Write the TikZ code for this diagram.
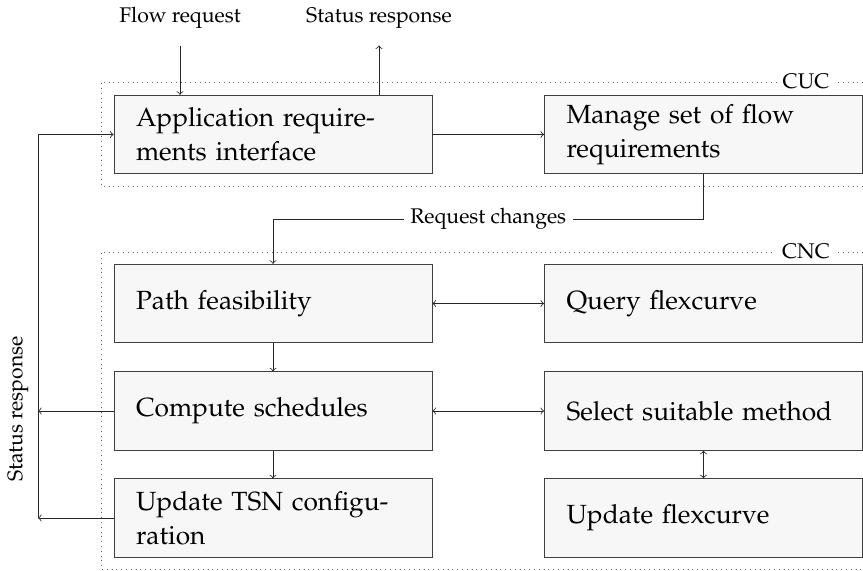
\documentclass[tikz,border=0pt]{standalone}
\usepackage[T1]{fontenc}
\usepackage{palatino}

\newcommand{\lblfont}{\fontsize{10.6}{13}\selectfont}
\newcommand{\boxfont}{\fontsize{13.15}{17}\selectfont}

\begin{document}
\begin{tikzpicture}[x=0.5pt,y=-0.5pt,
  procbox/.style={draw=black!75, fill=black!3, minimum width=159pt,
    minimum height=39.25pt, text width=137pt, inner xsep=11pt, inner ysep=2pt,
    align=left, font=\boxfont},
  lbl/.style={font=\lblfont},
  link/.style={draw=black!85, ->},
  group/.style={draw=black!60, dotted}]
\useasboundingbox (0,0) rectangle (863,570);

% dotted group frames (open to the right)
\draw[group] (863,82) -- (101,82) -- (101,186) -- (863,186);
\draw[group] (863,252) -- (101,252) -- (101,569) -- (863,569);
\node[lbl, fill=white, inner xsep=3pt] (cuc) at (806,81) {CUC};
\node[lbl, fill=white, inner xsep=3pt] (cnc) at (806,251) {CNC};

% process boxes
\node[procbox] (app)   at (273,134.5)   {Application require-\\ments interface};
\node[procbox] (mng)   at (703.5,134.5) {Manage set of flow\\requirements};
\node[procbox] (path)  at (273,303.5)   {Path feasibility};
\node[procbox] (query) at (703.5,303.5) {Query flexcurve};
\node[procbox] (comp)  at (273,411)     {Compute schedules};
\node[procbox] (sel)   at (703.5,411)   {Select suitable method};
\node[procbox] (tsn)   at (273,518)     {Update TSN configu-\\ration};
\node[procbox] (upd)   at (703.5,518)   {Update flexcurve};

% external request / response
\node[lbl] (freq)  at (180,18) {Flow request};
\node[lbl] (sresp) at (379,18) {Status response};
\draw[link, shorten <=5pt] (freq.south) -- (freq.south |- app.north);
\draw[link, shorten >=5pt] (sresp.south |- app.north) -- (sresp.south);

% CUC internals
\draw[link] (app.east) -- (mng.west);
\coordinate (rcy) at (0,219);
\draw[link] (mng.south) |- node[lbl, fill=white, pos=0.75] {Request changes}
  (path.north |- rcy) -- (path.north);

% CNC internals
\draw[link] (path.south) -- (comp.north);
\draw[link] (comp.south) -- (tsn.north);
\draw[link, <->] (path.east) -- (query.west);
\draw[link, <->] (comp.east) -- (sel.west);
\draw[link, <->] (sel.south) -- (upd.north);

% status feedback on the left
\coordinate (srtop) at (38,134.5);
\coordinate (srbot) at (38,518);
\draw[link] (srbot) -- (srtop) -- (app.west);
\draw[link] (comp.west) -- (comp.west -| srtop);
\draw[link] (tsn.west) -- (srbot);
\node[lbl, rotate=90] (srlbl) at (18,409) {Status response};
\end{tikzpicture}
\end{document}
